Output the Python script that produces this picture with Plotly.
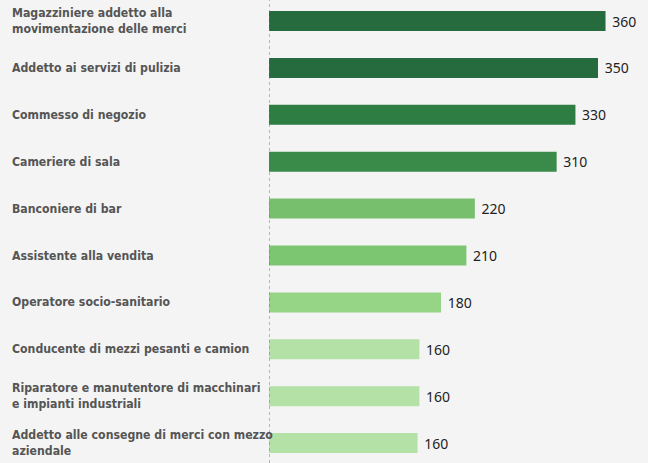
import plotly.graph_objects as go

jobs = [
    "Magazziniere addetto alla<br>movimentazione delle merci",
    "Addetto ai servizi di pulizia",
    "Commesso di negozio",
    "Cameriere di sala",
    "Banconiere di bar",
    "Assistente alla vendita",
    "Operatore socio-sanitario",
    "Conducente di mezzi pesanti e camion",
    "Riparatore e manutentore di macchinari<br>e impianti industriali",
    "Addetto alle consegne di merci con mezzo<br>aziendale",
]
values = [358, 350, 326, 306, 219, 210, 183, 160, 160, 158]
value_labels = ["360", "350", "330", "310", "220", "210", "180", "160", "160", "160"]
bar_colors = [
    "#266b3e", "#266b3e", "#2e7d43", "#3a8a4a",
    "#77bf6d", "#7cc571", "#96d486",
    "#b3e1a6", "#b3e1a6", "#b3e1a6",
]

W, H = 648, 463
LEFT = 269
px_per_unit = 0.94

fig = go.Figure()
fig.add_trace(
    go.Bar(
        x=values,
        y=list(range(len(jobs))),
        orientation="h",
        marker=dict(color=bar_colors, line=dict(width=0)),
        text=[" " + t for t in value_labels],
        textposition="outside",
        textfont=dict(family="Noto Sans, sans-serif", size=14, color="#222222"),
        cliponaxis=False,
        hoverinfo="skip",
    )
)

# category labels sit left-aligned at the left edge of the page
for i, job in enumerate(jobs):
    fig.add_annotation(
        x=(10 - LEFT) / (W - LEFT),
        xref="paper",
        y=i,
        yref="y",
        text=job,
        showarrow=False,
        xanchor="left",
        yanchor="middle",
        align="left",
        font=dict(family="DejaVu Sans Condensed, sans-serif",
                  size=12.2, color="#555555", weight="bold"),
    )

fig.add_shape(
    type="line", xref="x", yref="paper", x0=0, x1=0, y0=0, y1=1,
    line=dict(color="#777777", width=1, dash="dot"),
)

fig.update_layout(
    width=W,
    height=H,
    paper_bgcolor="#f4f4f4",
    plot_bgcolor="#f4f4f4",
    margin=dict(l=LEFT, r=0, t=0, b=0),
    bargap=0.574,
    showlegend=False,
)
fig.update_xaxes(range=[0, (W - LEFT) / px_per_unit], visible=False, fixedrange=True)
fig.update_yaxes(range=[9.424, -0.448], visible=False, fixedrange=True)

fig.write_html(
    "out.html",
    config={"displayModeBar": False},
    post_script="document.body.style.margin='0';document.body.style.background='#f4f4f4';",
)
